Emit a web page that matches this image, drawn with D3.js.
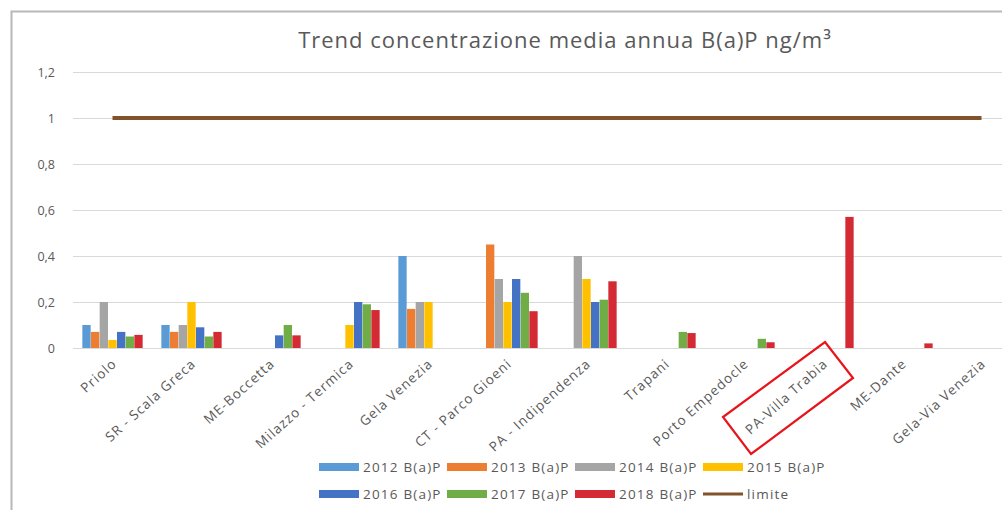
<!DOCTYPE html>
<html>
<head>
<meta charset="utf-8">
<script src="https://cdn.jsdelivr.net/npm/d3@7"></script>
<style>
  html, body { margin: 0; padding: 0; background: #fff; }
  svg { display: block; }
</style>
</head>
<body>
<svg id="chart" width="1002" height="510"></svg>
<script>
const categories = ["Priolo", "SR - Scala Greca", "ME-Boccetta", "Milazzo - Termica", "Gela Venezia",
  "CT - Parco Gioeni", "PA - Indipendenza", "Trapani", "Porto Empedocle", "PA-Villa Trabia",
  "ME-Dante", "Gela-Via Venezia"];
const seriesNames = ["2012 B(a)P", "2013 B(a)P", "2014 B(a)P", "2015 B(a)P", "2016 B(a)P", "2017 B(a)P", "2018 B(a)P"];
const v2012 = [0.10, 0.10, null, null, 0.40, null, null, null, null, null, null, null];
const v2013 = [0.07, 0.07, null, null, 0.17, 0.45, null, null, null, null, null, null];
const v2014 = [0.20, 0.10, null, null, 0.20, 0.30, 0.40, null, null, null, null, null];
const v2015 = [0.035, 0.20, null, 0.10, 0.20, 0.20, 0.30, null, null, null, null, null];
const v2016 = [0.07, 0.09, 0.055, 0.20, null, 0.30, 0.20, null, null, null, null, null];
const v2017 = [0.05, 0.05, 0.10, 0.19, null, 0.24, 0.21, 0.07, 0.04, null, null, null];
const v2018 = [0.057, 0.07, 0.055, 0.165, null, 0.16, 0.29, 0.065, 0.025, 0.57, 0.02, null];
const limite = [1, 1, 1, 1, 1, 1, 1, 1, 1, 1, 1, 1];
const yTicks = [0, 0.2, 0.4, 0.6, 0.8, 1, 1.2];
const title = "Trend concentrazione media annua B(a)P ng/m³";

const seriesValues = [v2012, v2013, v2014, v2015, v2016, v2017, v2018];
const colors = ["#5b9bd5", "#ed7d31", "#a5a5a5", "#ffc000", "#4472c4", "#70ad47", "#d42a34"];
const limiteColor = "#82522b";
const textColor = "#595959";
const font = "'Open Sans', 'Liberation Sans', sans-serif";

const svg = d3.select("#chart");

// chart border (cropped on right and bottom)
svg.append("path")
  .attr("d", "M11.5,510 L11.5,11.5 L1002,11.5")
  .attr("fill", "none").attr("stroke", "#b8b8b8").attr("stroke-width", 2);

const plotLeft = 73, plotRight = 73 + 12 * 79;
const y = d3.scaleLinear().domain([0, 1.2]).range([348, 72]);
const x0 = d3.scaleBand().domain(categories).range([plotLeft, plotRight]).padding(0);
const x1 = d3.scaleBand().domain(seriesNames).range([9, 70]).padding(0.04);

// gridlines
svg.append("g").selectAll("line").data(yTicks).join("line")
  .attr("x1", plotLeft).attr("x2", 1002)
  .attr("y1", d => Math.round(y(d)) + 0.5).attr("y2", d => Math.round(y(d)) + 0.5)
  .attr("stroke", "#d9d9d9").attr("stroke-width", 1);

// y axis labels
const yAxis = d3.axisLeft(y).tickValues(yTicks).tickSize(0).tickPadding(0)
  .tickFormat(d => d3.format(".1~f")(d).replace(".", ","));
const gy = svg.append("g").attr("transform", "translate(55,0)").call(yAxis);
gy.select(".domain").remove();
gy.selectAll("text").attr("fill", textColor).style("font-family", font).style("font-size", "12.5px");

// bars
const groups = svg.append("g").selectAll("g").data(seriesNames).join("g")
  .attr("fill", (d, i) => colors[i]);
groups.each(function(name, si) {
  const data = categories.map((c, ci) => ({ c, v: seriesValues[si][ci] })).filter(d => d.v != null);
  d3.select(this).selectAll("rect").data(data).join("rect")
    .attr("x", d => x0(d.c) + x1(name))
    .attr("width", x1.bandwidth())
    .attr("y", d => y(d.v))
    .attr("height", d => y(0) - y(d.v));
});

// limite line
const line = d3.line().x((d, i) => x0(categories[i]) + x0.bandwidth() / 2).y(d => y(d));
svg.append("path").datum(limite).attr("d", line)
  .attr("fill", "none").attr("stroke", limiteColor).attr("stroke-width", 4);

// x axis labels
svg.append("g").selectAll("text").data(categories).join("text")
  .attr("transform", d => `translate(${x0(d) + x0.bandwidth() / 2 + 5},${365}) rotate(-42)`)
  .attr("text-anchor", "end")
  .attr("fill", textColor)
  .style("font-family", font).style("font-size", "13.5px").style("letter-spacing", "1px")
  .text(d => d);

// title
svg.append("text").attr("x", 565).attr("y", 48).attr("text-anchor", "middle")
  .attr("fill", textColor).style("font-family", font).style("font-size", "22px")
  .style("letter-spacing", "1px")
  .text(title);

// legend
const legendItems = seriesNames.map((n, i) => ({ n, c: colors[i], type: "bar" }))
  .concat([{ n: "limite", c: limiteColor, type: "line" }]);
const lg = svg.append("g").selectAll("g").data(legendItems).join("g")
  .attr("transform", (d, i) => `translate(${319 + (i % 4) * 128},${i < 4 ? 467 : 494})`);
lg.filter(d => d.type === "bar").append("rect")
  .attr("x", 0).attr("y", -4).attr("width", 40).attr("height", 8).attr("fill", d => d.c);
lg.filter(d => d.type === "line").append("line")
  .attr("x1", 0).attr("x2", 40).attr("y1", 0).attr("y2", 0)
  .attr("stroke", d => d.c).attr("stroke-width", 3);
lg.append("text").attr("x", 44).attr("y", 5).attr("fill", textColor)
  .style("font-family", font).style("font-size", "13.5px").style("letter-spacing", "1.2px")
  .text(d => d.n);

// red annotation box around PA-Villa Trabia
svg.append("polygon")
  .attr("points", "825,342 853,378 751,454 723,417")
  .attr("fill", "none").attr("stroke", "#e8141c").attr("stroke-width", 2.2);
</script>
</body>
</html>
